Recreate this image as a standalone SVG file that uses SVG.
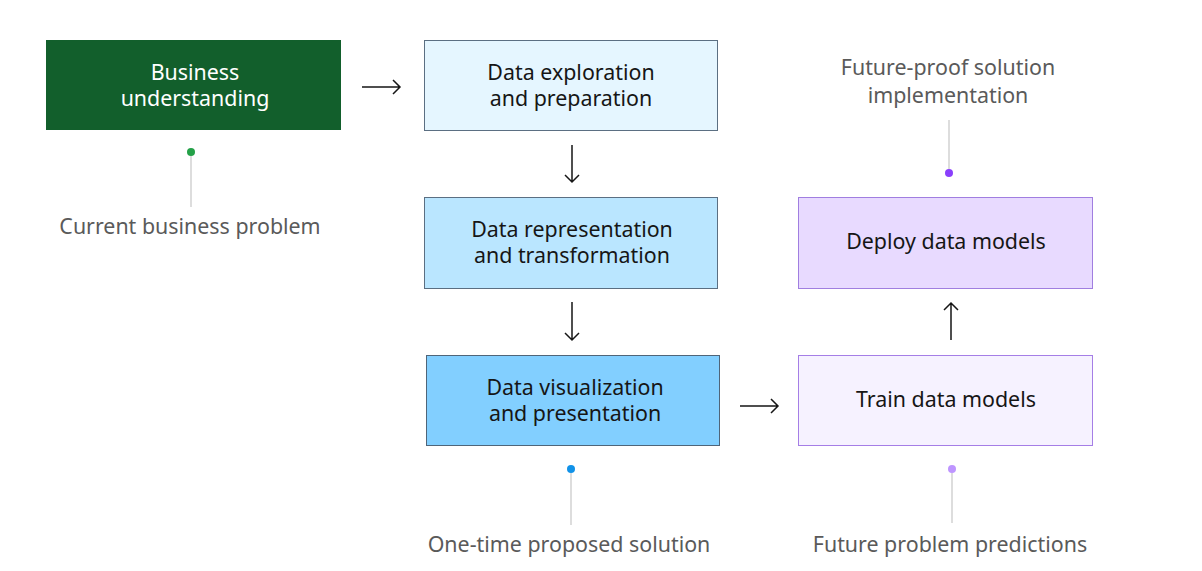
<svg xmlns="http://www.w3.org/2000/svg" width="1202" height="571" viewBox="0 0 1202 571">
<style>
text{font-family:"Noto Sans","Open Sans",sans-serif;font-size:21.4px;text-anchor:middle}
.dark{fill:#161616}
.lbl{fill:#5a5a5a}
.arr{stroke:#161616;stroke-width:1.5;fill:none}
.lead{stroke:#c6c6c6;stroke-width:1.2}
</style>
<rect width="1202" height="571" fill="#ffffff"/>
<g id="connectors">
<path class="arr" d="M362 87H400M393 80L400 87L393 94"/>
<path class="arr" d="M572 145V182M565 175L572 182L579 175"/>
<path class="arr" d="M572 302V340M565 333L572 340L579 333"/>
<path class="arr" d="M740 406H778M771 399L778 406L771 413"/>
<path class="arr" d="M951 340V303M944 310L951 303L958 310"/>
</g>
<g id="n-business">
<rect x="46" y="40" width="295" height="90" fill="#125f2c"/>
<text x="195" y="80" fill="#ffffff">Business</text>
<text x="195" y="106" fill="#ffffff">understanding</text>
</g>
<g id="n-exploration">
<rect x="424.5" y="40.5" width="293" height="90" fill="#e5f6ff" stroke="#5b6f82"/>
<text class="dark" x="571" y="80">Data exploration</text>
<text class="dark" x="571" y="106">and preparation</text>
</g>
<g id="n-representation">
<rect x="424.5" y="197.5" width="293" height="91" fill="#bae6ff" stroke="#5b6f82"/>
<text class="dark" x="572" y="237">Data representation</text>
<text class="dark" x="572" y="263">and transformation</text>
</g>
<g id="n-visualization">
<rect x="426.5" y="355.5" width="293" height="90" fill="#82cfff" stroke="#4f6579"/>
<text class="dark" x="575" y="395">Data visualization</text>
<text class="dark" x="575" y="421">and presentation</text>
</g>
<g id="n-train">
<rect x="798.5" y="355.5" width="294" height="90" fill="#f6f2ff" stroke="#a57ee6"/>
<text class="dark" x="946" y="407">Train data models</text>
</g>
<g id="n-deploy">
<rect x="798.5" y="197.5" width="294" height="91" fill="#e8daff" stroke="#a07ee0"/>
<text class="dark" x="946" y="249">Deploy data models</text>
</g>
<g id="ann-current">
<line class="lead" x1="191" y1="156" x2="191" y2="207"/>
<circle cx="191" cy="152" r="4" fill="#24a148"/>
<text class="lbl" x="190" y="234">Current business problem</text>
</g>
<g id="ann-onetime">
<line class="lead" x1="571" y1="473" x2="571" y2="525"/>
<circle cx="571" cy="469" r="4" fill="#1192e8"/>
<text class="lbl" x="569" y="552">One-time proposed solution</text>
</g>
<g id="ann-future-pred">
<line class="lead" x1="952" y1="473" x2="952" y2="523"/>
<circle cx="952" cy="469" r="4" fill="#be95ff"/>
<text class="lbl" x="950" y="552">Future problem predictions</text>
</g>
<g id="ann-futureproof">
<line class="lead" x1="949" y1="120" x2="949" y2="169"/>
<circle cx="949" cy="173" r="4" fill="#8a3ffc"/>
<text class="lbl" x="948" y="75">Future-proof solution</text>
<text class="lbl" x="948" y="103">implementation</text>
</g>
</svg>
